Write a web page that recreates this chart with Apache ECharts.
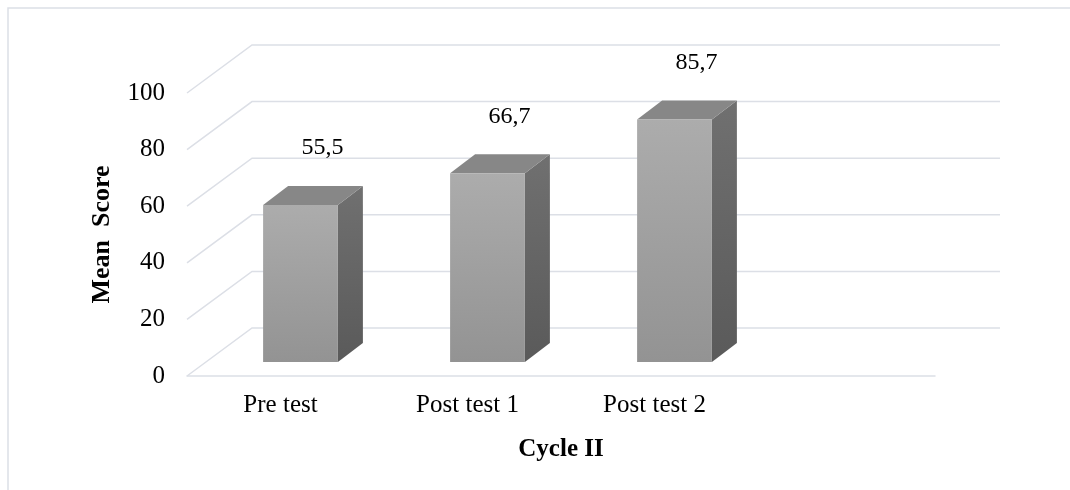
<!DOCTYPE html>
<html>
<head>
    <meta charset="utf-8">
    <script type="text/javascript" src="https://cdn.jsdelivr.net/npm/echarts@6/dist/echarts.min.js"></script>
    <title>Cycle II</title>
</head>
<body style="margin:0">
    <div id="container" style="width:1070px;height:490px;"></div>
    <script type="text/javascript">
    // data
    var categories = ['Pre test', 'Post test 1', 'Post test 2', ''];
    var scores = [55.5, 66.7, 85.7];
    var yTicks = [0, 20, 40, 60, 80, 100];

    // fake 3D depth (px)
    var WALL_DX = 65, WALL_DY = 48;
    var BAR_OFF_DX = 20, BAR_OFF_DY = 14;
    var BAR_DX = 25, BAR_DY = 19;
    var GRID_COLOR = '#dcdfe6';
    var FONT = '"Liberation Serif", "Times New Roman", serif';

    var myChart = echarts.init(document.getElementById('container'));

    // back wall + left wall lines
    function renderWall(params, api) {
        var cs = params.coordSys;
        var v = api.value(1);
        var fy = api.coord([0, v])[1];
        var x0 = cs.x;
        var pts = [[x0, fy], [x0 + WALL_DX, fy - WALL_DY], [x0 + cs.width + WALL_DX, fy - WALL_DY]];
        return {
            type: 'polyline',
            shape: { points: pts },
            style: { stroke: GRID_COLOR, lineWidth: 1.5, fill: null }
        };
    }

    // 3D looking bar
    function renderBar(params, api) {
        var idx = api.value(0);
        var val = api.value(1);
        var top = api.coord([idx, val]);
        var base = api.coord([idx, 0]);
        var bw = api.size([1, 0])[0] * 0.4;
        var xl = top[0] - bw / 2 + BAR_OFF_DX;
        var xr = xl + bw;
        var yt = top[1] - BAR_OFF_DY;
        var yb = base[1] - BAR_OFF_DY;
        return {
            type: 'group',
            children: [{
                type: 'polygon',
                shape: { points: [[xr, yt], [xr + BAR_DX, yt - BAR_DY], [xr + BAR_DX, yb - BAR_DY], [xr, yb]] },
                style: {
                    fill: new echarts.graphic.LinearGradient(0, 0, 0, 1, [
                        { offset: 0, color: '#707070' }, { offset: 1, color: '#5a5a5a' }
                    ])
                }
            }, {
                type: 'polygon',
                shape: { points: [[xl, yt], [xl + BAR_DX, yt - BAR_DY], [xr + BAR_DX, yt - BAR_DY], [xr, yt]] },
                style: { fill: '#878787' }
            }, {
                type: 'rect',
                shape: { x: xl, y: yt, width: bw, height: yb - yt },
                style: {
                    fill: new echarts.graphic.LinearGradient(0, 0, 0, 1, [
                        { offset: 0, color: '#acacac' }, { offset: 1, color: '#939393' }
                    ])
                }
            }, {
                type: 'text',
                style: {
                    text: String(val).replace('.', ','),
                    x: (xl + xr) / 2 + 22,
                    y: yt - 57,
                    align: 'center',
                    verticalAlign: 'middle',
                    fill: '#000',
                    font: '24px ' + FONT
                }
            }]
        };
    }

    var option = {
        animation: false,
        graphic: [{
            type: 'rect',
            shape: { x: 8, y: 8, width: 1100, height: 500 },
            style: { fill: null, stroke: GRID_COLOR, lineWidth: 1.5 }
        }],
        grid: { left: 187, right: 135, top: 93, bottom: 114 },
        xAxis: {
            type: 'category',
            data: categories,
            axisLine: { lineStyle: { color: GRID_COLOR, width: 1.5 } },
            axisTick: { show: false },
            axisLabel: { color: '#000', fontSize: 25, fontFamily: FONT, margin: 17 },
            name: 'Cycle II',
            nameLocation: 'middle',
            nameGap: 61,
            nameTextStyle: { color: '#000', fontSize: 25, fontWeight: 'bold', fontFamily: FONT }
        },
        yAxis: {
            type: 'value',
            min: 0,
            max: 100,
            interval: 20,
            axisLine: { show: false },
            axisTick: { show: false },
            splitLine: { show: false },
            axisLabel: { color: '#000', fontSize: 25, fontFamily: FONT, margin: 22 },
            name: 'Mean  Score',
            nameLocation: 'middle',
            nameGap: 72,
            nameTextStyle: { color: '#000', fontSize: 26, fontWeight: 'bold', fontFamily: FONT }
        },
        series: [{
            type: 'custom',
            renderItem: renderWall,
            data: yTicks.map(function (v) { return [0, v]; }),
            z: 1,
            silent: true
        }, {
            type: 'custom',
            renderItem: renderBar,
            data: scores.map(function (v, i) { return [i, v]; }),
            z: 2
        }]
    };

    myChart.setOption(option);
    </script>
</body>
</html>
